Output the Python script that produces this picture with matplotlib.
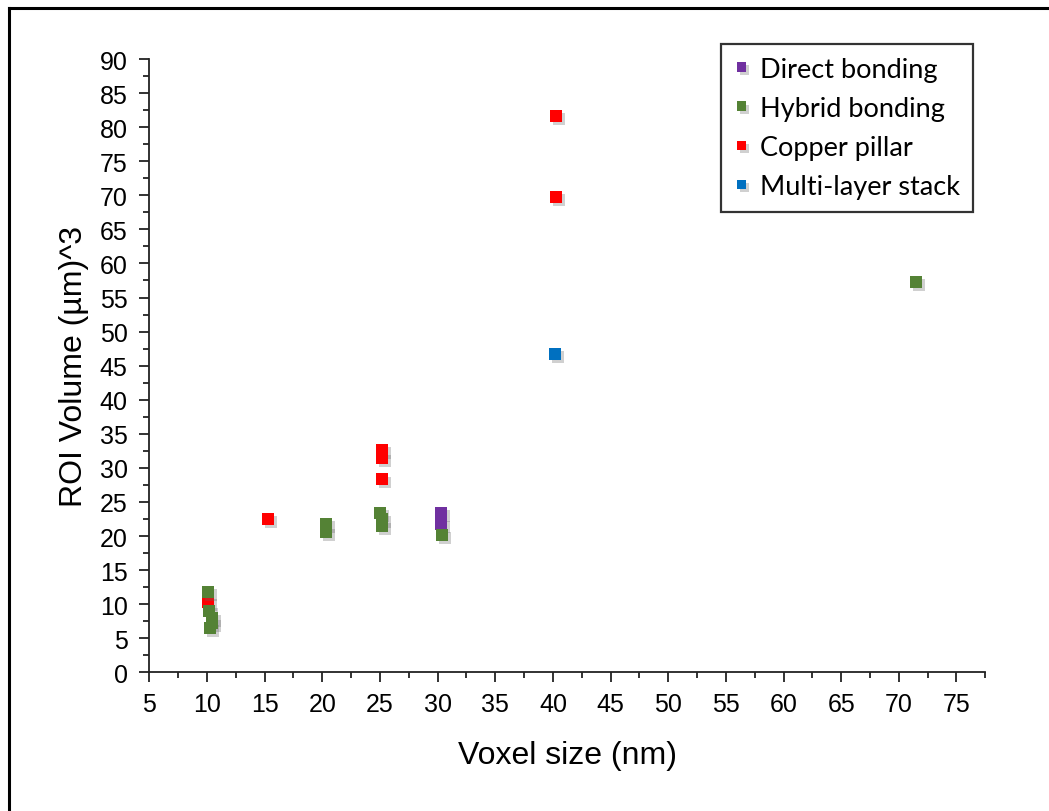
import matplotlib
matplotlib.use("Agg")
import matplotlib.pyplot as plt
import matplotlib.patheffects as pe
from matplotlib.lines import Line2D
from matplotlib.ticker import MultipleLocator

# ---- data ----
direct_x = [30.3, 30.3]
direct_y = [23.4, 21.8]

hybrid_x = [10.1, 10.2, 10.4, 10.4, 10.3, 20.3, 20.3, 25.0, 25.2, 25.2, 30.4, 71.5]
hybrid_y = [11.8, 9.0, 8.0, 7.3, 6.5, 21.8, 20.6, 23.4, 22.5, 21.5, 20.2, 57.3]

copper_x = [10.1, 15.3, 25.2, 25.2, 25.2, 40.3, 40.3]
copper_y = [10.3, 22.5, 32.6, 31.4, 28.3, 81.7, 69.7]

multi_x = [40.2]
multi_y = [46.7]

labels = ["Direct bonding", "Hybrid bonding", "Copper pillar", "Multi-layer stack"]
colors = ["#7030A0", "#548235", "#FF0000", "#0070C0"]

fig = plt.figure(figsize=(10.49, 8.12), dpi=100)
ax = fig.add_axes([0.1423, 0.1708, 0.797, 0.7553])

shadow = [pe.SimplePatchShadow(offset=(2.2, -2.2), shadow_rgbFace="#666666", alpha=0.3),
          pe.Normal()]

series = [
    (direct_x, direct_y),
    (copper_x, copper_y),
    (hybrid_x, hybrid_y),
    (multi_x, multi_y),
]
order_labels = [labels[0], labels[2], labels[1], labels[3]]
order_colors = [colors[0], colors[2], colors[1], colors[3]]
for (xs, ys), lab, col in zip(series, order_labels, order_colors):
    ax.plot(xs, ys, linestyle="none", marker="s", markersize=8.6,
            markerfacecolor=col, markeredgecolor=col, markeredgewidth=0,
            path_effects=shadow, label=lab, zorder=3)

ax.set_xlim(5, 77.5)
ax.set_ylim(0, 90)
ax.xaxis.set_major_locator(MultipleLocator(5))
ax.xaxis.set_minor_locator(MultipleLocator(2.5))
ax.yaxis.set_major_locator(MultipleLocator(5))
ax.yaxis.set_minor_locator(MultipleLocator(2.5))

for s in ["top", "right"]:
    ax.spines[s].set_visible(False)
for s in ["left", "bottom"]:
    ax.spines[s].set_linewidth(1.3)
    ax.spines[s].set_color("#222222")

ax.tick_params(which="major", direction="out", length=7.5, width=1.3, color="#222222",
               labelsize=18)
ax.tick_params(axis="x", which="major", pad=7)
ax.tick_params(axis="y", which="major", pad=8)
ax.tick_params(which="minor", direction="out", length=4.5, width=1.3, color="#222222")
for lab in ax.get_xticklabels() + ax.get_yticklabels():
    lab.set_fontfamily("Liberation Sans")

ax.set_xlabel("Voxel size (nm)", fontsize=23, fontfamily="Liberation Sans", labelpad=17)
ax.set_ylabel("ROI Volume (µm)^3", fontsize=23, fontfamily="Liberation Sans", labelpad=8)

# legend
handles = []
for lab, col in zip(labels, colors):
    handles.append(Line2D([], [], linestyle="none", marker="s", markersize=7,
                          markerfacecolor=col, markeredgewidth=0,
                          path_effects=shadow))
leg = fig.legend(handles, labels, loc="upper left", bbox_to_anchor=(0.687, 0.9446),
                 frameon=True, fancybox=False, shadow=False, borderaxespad=0,
                 prop={"family": "Lato", "size": 19.5}, handlelength=0.6,
                 handletextpad=0.4, labelspacing=0.52, borderpad=0.47)
leg.get_frame().set_edgecolor("black")
leg.get_frame().set_linewidth(1.6)

# outer border (top and left)
fig.add_artist(Line2D([0.0086, 1.0], [0.989, 0.989], transform=fig.transFigure,
                      color="black", linewidth=2.2))
fig.add_artist(Line2D([0.0086, 0.0086], [0.0, 0.989], transform=fig.transFigure,
                      color="black", linewidth=2.2))

fig.savefig("out.png", dpi=100)
